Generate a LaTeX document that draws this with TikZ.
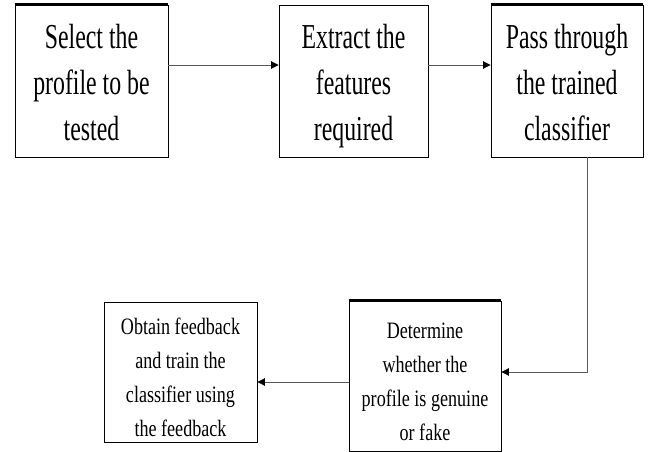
\documentclass[tikz,border=0pt]{standalone}
\usepackage{fontspec}
\setmainfont{Liberation Serif}
\usetikzlibrary{arrows.meta}
\newcommand{\bigtxt}[1]{\raisebox{-4pt}[\height][\depth]{\scalebox{0.68}[1]{\fontsize{35}{46}\selectfont\begin{tabular}{@{}c@{}}#1\end{tabular}}}}
\newcommand{\smalltxt}[1]{\raisebox{-7pt}[\height][\depth]{\scalebox{0.77}[1]{\fontsize{23.5}{34}\selectfont\begin{tabular}{@{}c@{}}#1\end{tabular}}}}
\tikzset{
  flowbox/.style={draw=black, line width=0.9pt, rectangle, align=center, inner sep=0pt},
  topedge/.style={line width=2.2pt, black},
  conn/.style={draw=black!65, line width=0.9pt, -{Triangle[length=7.5pt,width=7.5pt,black]}}
}
\begin{document}
\begin{tikzpicture}[x=1pt,y=-1pt]
\useasboundingbox (0,0) rectangle (651,452);
\node[flowbox, minimum width=153pt, minimum height=152pt] (b1) at (91.5,81) {\bigtxt{Select the\\profile to be\\tested}};
\node[flowbox, minimum width=149pt, minimum height=152pt] (b2) at (353.5,81) {\bigtxt{Extract the\\features\\required}};
\node[flowbox, minimum width=152pt, minimum height=152pt] (b3) at (567,81) {\bigtxt{Pass through\\the trained\\classifier}};
\node[flowbox, minimum width=153pt, minimum height=140pt] (b4) at (180.5,372) {\smalltxt{Obtain feedback\\and train the\\classifier using\\the feedback}};
\node[flowbox, minimum width=152pt, minimum height=150pt] (b5) at (425,376) {\smalltxt{Determine\\whether the\\profile is genuine\\or fake}};
\draw[topedge] (b1.north west) -- (b1.north east);
\draw[topedge] (b3.north west) -- (b3.north east);
\draw[topedge] (b5.north west) -- (b5.north east);
\draw[conn] ([yshift=16pt]b1.east) -- ([yshift=16pt]b2.west);
\draw[conn] ([yshift=16pt]b2.east) -- ([yshift=16pt]b3.west);
\draw[conn] ([xshift=20pt]b3.south) |- ([yshift=4pt]b5.east);
\draw[conn] ([yshift=-6pt]b5.west) -- ([yshift=-6pt]b5.west -| b4.east);
\end{tikzpicture}
\end{document}
